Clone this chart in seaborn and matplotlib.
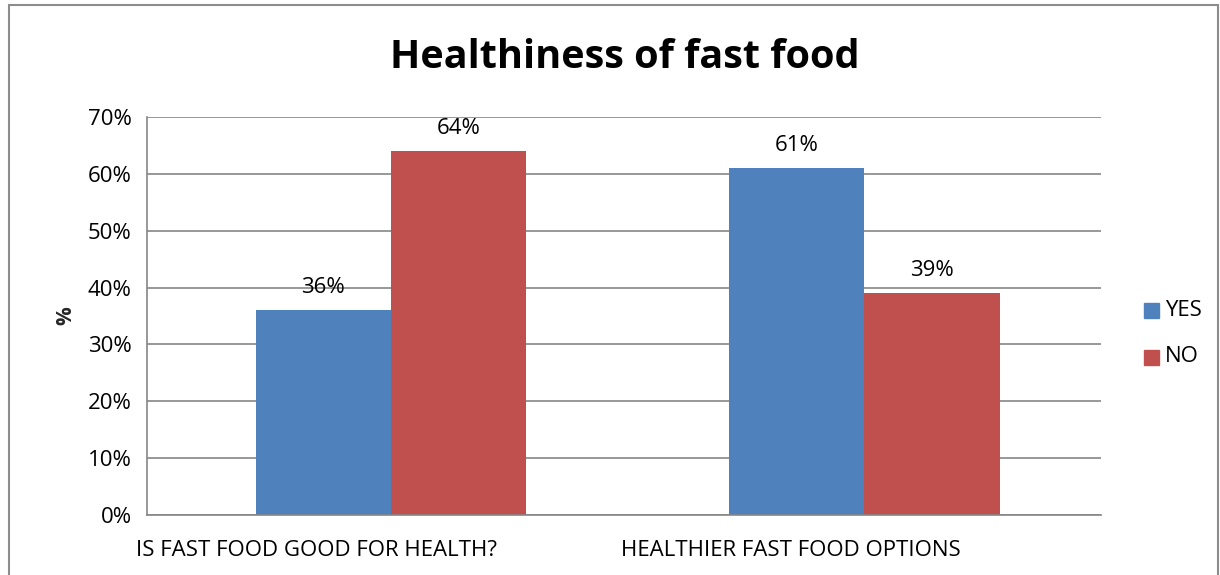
import matplotlib
matplotlib.use("Agg")
import matplotlib.pyplot as plt
import matplotlib.transforms as mtransforms
from matplotlib.patches import Rectangle
import seaborn as sns
import pandas as pd

categories = ["IS FAST FOOD GOOD FOR HEALTH?", "HEALTHIER FAST FOOD OPTIONS"]
yes_values = [36, 61]
no_values = [64, 39]
series_names = ["YES", "NO"]
y_ticks = [0, 10, 20, 30, 40, 50, 60, 70]

df = pd.DataFrame({
    "category": categories * 2,
    "answer": [series_names[0]] * 2 + [series_names[1]] * 2,
    "value": yes_values + no_values,
})

sns.set_theme(style="white")
plt.rcParams["font.family"] = ["Open Sans", "DejaVu Sans"]

colors = {"YES": "#4F81BD", "NO": "#C0504D"}
grid_col = "#868686"
fs = 16

fig = plt.figure(figsize=(12.2, 5.75), dpi=100)
ax = fig.add_axes([147 / 1220, 1 - 515 / 575, (1101 - 147) / 1220, (515 - 117) / 575])

sns.barplot(data=df, x="category", y="value", hue="answer", order=categories,
            hue_order=series_names, palette=colors, width=0.572, saturation=1,
            ax=ax, legend=False, edgecolor="none")

ax.set_ylim(0, 70)
ax.set_xlim(-0.5153, 1.4995)
ax.set_yticks(y_ticks)
ax.set_yticklabels([f"{t}%" for t in y_ticks], fontsize=fs, color="#000000")
ax.set_xticklabels(categories, fontsize=fs, color="#000000")
ax.tick_params(axis="y", length=7, color=grid_col, width=1.2, pad=4)
ax.tick_params(axis="x", length=0, pad=18)
# category labels sit a little left of their bar groups
shift = mtransforms.ScaledTranslation(-0.74, 0, fig.dpi_scale_trans)
for lbl in ax.get_xticklabels():
    lbl.set_transform(lbl.get_transform() + shift)
ax.grid(axis="y", color=grid_col, linewidth=1.2)
ax.set_axisbelow(True)
for side in ["top", "right"]:
    ax.spines[side].set_visible(False)
for side in ["left", "bottom"]:
    ax.spines[side].set_color(grid_col)
    ax.spines[side].set_linewidth(1.2)
ax.set_xlabel("")
ax.set_ylabel("%", fontsize=15, fontweight="bold", labelpad=8)

for container in ax.containers:
    ax.bar_label(container, labels=[f"{v:.0f}%" for v in container.datavalues],
                 fontsize=fs, padding=9, color="#000000")

# legend drawn at right of plot area
for i, name in enumerate(series_names):
    y = 1 - (310 + 47 * i) / 575
    fig.patches.append(Rectangle((1144 / 1220, y - 7.5 / 575), 15 / 1220, 15 / 575,
                                 transform=fig.transFigure, color=colors[name]))
    fig.text(1165 / 1220, y, name, fontsize=fs, va="center", ha="left", color="#000000")

fig.text(625 / 1220, 1 - 57 / 575, "Healthiness of fast food", fontsize=28.5,
         fontweight="bold", ha="center", va="center", color="#000000")

# outer chart frame
fig.patches.append(Rectangle((9 / 1220, -0.1), 1209 / 1220, 1 - 5 / 575 + 0.1,
                             transform=fig.transFigure, fill=False,
                             edgecolor="#8C8C8C", linewidth=1.5))

fig.savefig("out.png", dpi=100)
